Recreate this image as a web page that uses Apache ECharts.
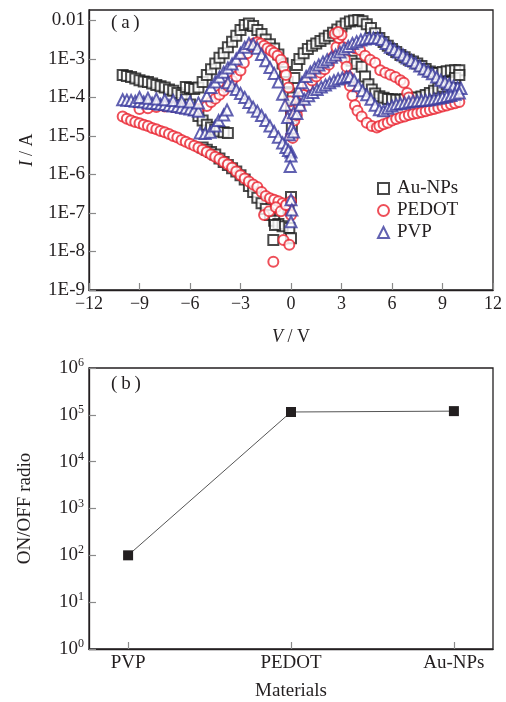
<!DOCTYPE html>
<html>
<head>
<meta charset="utf-8">
<script src="https://cdn.jsdelivr.net/npm/echarts@6/dist/echarts.min.js"></script>
<style>
html, body { margin: 0; background: #fff; }
#main { width: 506px; height: 702px; }
</style>
</head>
<body>
<div id="main"></div>
<script>
// (a) I-V curves, [V, I] pairs
const auNPs = [
  [-10,3.8e-4],[-9.75,3.6e-4],[-9.5,3.4e-4],[-9.25,3.1e-4],[-9,2.8e-4],[-8.75,2.6e-4],[-8.5,2.5e-4],[-8.25,2.3e-4],
  [-8,2.1e-4],[-7.75,1.95e-4],[-7.5,1.8e-4],[-7.25,1.6e-4],[-7,1.5e-4],[-6.75,1.3e-4],[-6.5,1.15e-4],[-6.25,8.9e-5],
  [-6,6.5e-5],[-5.75,4.7e-5],[-5.5,3.3e-5],[-5.25,2.5e-5],[-5,1.95e-5],[-4.75,1.65e-5],[-4.5,1.45e-5],[-4.25,1.3e-5],
  [-4,1.25e-5],[-3.75,1.2e-5],
  [-5.25,5.0e-6],[-5,4.4e-6],[-4.75,3.8e-6],[-4.5,3.3e-6],[-4.25,2.6e-6],[-4,2.1e-6],[-3.75,1.75e-6],[-3.5,1.45e-6],
  [-3.25,1.2e-6],[-3,9.5e-7],[-2.75,7.4e-7],[-2.5,5.0e-7],[-2.25,3.5e-7],[-2,2.5e-7],[-1.75,1.8e-7],[-1.5,1.26e-7],
  [-1.25,8.9e-8],[-1,6.3e-8],[-0.75,5.2e-8],[-0.5,4.5e-8],
  [-1.05,2.0e-8],[-0.95,4.9e-8],[0,2.6e-7],[-0.1,4.1e-8],[0,2.2e-8],[-0.15,1.3e-7],
  [-6.25,1.85e-4],[-6,1.75e-4],[-5.75,1.65e-4],[-5.5,1.8e-4],[-5.25,2.5e-4],[-5,3.8e-4],[-4.75,5.4e-4],[-4.5,7.6e-4],
  [-4.25,1.07e-3],[-4,1.4e-3],[-3.75,2.0e-3],[-3.5,2.8e-3],[-3.25,4.0e-3],[-3,5.6e-3],[-2.75,7.6e-3],[-2.5,8.3e-3],
  [-2.25,7.2e-3],[-2,5.6e-3],[-1.75,4.4e-3],[-1.5,3.2e-3],[-1.25,2.4e-3],[-1,1.85e-3],[-0.75,1.3e-3],[-0.5,7.6e-4],
  [-0.35,4.6e-4],[-0.2,2.5e-4],[-0.1,1.26e-4],[0,5.0e-5],[0.05,1.8e-5],
  [0.1,1.0e-4],[0.2,3.2e-4],[0.35,6.9e-4],[0.5,1.0e-3],[0.75,1.4e-3],[1,1.8e-3],[1.25,2.2e-3],[1.5,2.5e-3],
  [1.75,2.9e-3],[2,3.4e-3],[2.25,4.0e-3],[2.5,4.8e-3],[2.75,5.8e-3],[3,6.9e-3],[3.25,8.3e-3],[3.5,9.3e-3],
  [3.75,1.0e-2],[4,1.02e-2],[4.25,9.5e-3],[4.5,7.9e-3],[4.75,6.3e-3],[5,4.6e-3],[5.25,3.5e-3],[5.5,2.75e-3],
  [5.75,2.2e-3],[6,1.8e-3],[6.25,1.5e-3],[6.5,1.26e-3],[6.75,1.1e-3],[7,9.5e-4],[7.25,8.5e-4],[7.5,7.6e-4],
  [7.75,6.5e-4],[8,5.5e-4],[8.25,4.7e-4],[8.5,4.3e-4],[8.75,4.3e-4],[9,4.6e-4],[9.25,4.8e-4],[9.5,5.0e-4],
  [9.75,5.1e-4],[10,5.1e-4],
  [3.6,9.0e-4],[3.9,7.5e-4],[4.2,6.3e-4],[4.4,3.5e-4],[4.6,2.2e-4],[4.8,1.6e-4],[5,1.26e-4],[5.25,1.07e-4],
  [5.5,9.8e-5],[5.75,9.1e-5],[6,8.9e-5],[6.25,8.7e-5],[6.5,8.7e-5],[6.75,8.9e-5],[7,9.3e-5],[7.25,9.8e-5],
  [7.5,1.0e-4],[7.75,1.05e-4],[8,1.15e-4],[8.25,1.3e-4],[8.5,1.5e-4],[8.75,1.7e-4],[9,1.9e-4],[9.25,2.2e-4],
  [9.5,2.5e-4],[9.75,3.2e-4],[10,3.8e-4]
];

const pedot = [
  [-10,3.2e-5],[-9.75,2.8e-5],[-9.5,2.5e-5],[-9.25,2.3e-5],[-9,2.15e-5],[-8.75,1.95e-5],[-8.5,1.8e-5],[-8.25,1.6e-5],
  [-8,1.5e-5],[-7.75,1.35e-5],[-7.5,1.25e-5],[-7.25,1.12e-5],[-7,1.0e-5],[-6.75,9.1e-6],[-6.5,7.9e-6],[-6.25,7.1e-6],
  [-6,6.3e-6],[-5.75,5.6e-6],[-5.5,5.0e-6],[-5.25,4.4e-6],[-5,3.8e-6],[-4.75,3.3e-6],[-4.5,2.9e-6],[-4.25,2.5e-6],
  [-4,2.1e-6],[-3.75,1.8e-6],[-3.5,1.5e-6],[-3.25,1.2e-6],[-3,9.5e-7],[-2.75,7.9e-7],[-2.5,6.6e-7],[-2.25,5.5e-7],
  [-2,4.7e-7],[-1.75,3.5e-7],[-1.5,2.75e-7],[-1.25,2.4e-7],[-1,2.2e-7],[-0.75,2.0e-7],[-0.5,1.8e-7],[-0.25,1.6e-7],
  [-1.6,8.9e-8],[-1.3,1.1e-7],[-0.9,1.4e-7],[-0.6,1.1e-7],[-0.3,1.6e-7],[0,2.0e-7],[0,8.9e-8],[-0.45,2.0e-8],
  [-0.1,1.5e-8],[-1.05,5.4e-9],
  [-9,5.0e-5],[-8.5,5.2e-5],[-8,5.6e-5],[-7.5,5.8e-5],[-7,5.6e-5],[-6.5,5.2e-5],[-6,5.0e-5],[-5.5,5.0e-5],
  [-5,6.0e-5],[-4.75,7.6e-5],[-4.5,9.3e-5],[-4.25,1.17e-4],[-4,1.5e-4],[-3.75,2.0e-4],[-3.5,2.7e-4],[-3.25,3.5e-4],
  [-3,5.0e-4],[-2.8,7.9e-4],[-2.6,1.4e-3],[-2.4,2.1e-3],[-2.2,2.5e-3],[-2,2.7e-3],[-1.8,2.5e-3],[-1.6,2.2e-3],
  [-1.4,1.9e-3],[-1.2,1.66e-3],[-1,1.45e-3],[-0.8,1.2e-3],[-0.6,9.5e-4],[-0.45,6.3e-4],[-0.3,3.8e-4],[-0.15,1.8e-4],
  [-0.05,7.9e-5],[0,3.5e-5],[0,1.0e-5],[0.1,8.9e-6],
  [0.2,2.5e-5],[0.35,3.5e-5],[0.5,5.6e-5],[0.75,1.15e-4],[1,2.0e-4],[1.25,2.75e-4],[1.5,3.5e-4],[1.75,4.4e-4],
  [2,5.4e-4],[2.25,7.1e-4],[2.5,1.1e-3],[2.7,2.0e-3],[2.85,3.5e-3],[3,4.2e-3],[2.6,4.5e-3],[2.8,5.0e-3],
  [3.1,2.0e-3],[3.2,1.0e-3],[3.3,6.3e-4],[3.4,3.5e-4],[3.5,2.0e-4],[3.65,1.1e-4],[3.8,6.3e-5],[3.95,4.5e-5],
  [4.2,3.2e-5],[4.5,2.2e-5],[4.8,1.8e-5],[5.1,1.66e-5],
  [5.25,1.8e-5],[5.5,2.0e-5],[5.75,2.2e-5],[6,2.5e-5],[6.25,2.75e-5],[6.5,3.0e-5],[6.75,3.2e-5],[7,3.5e-5],
  [7.25,3.7e-5],[7.5,3.9e-5],[7.75,4.1e-5],[8,4.4e-5],[8.25,4.7e-5],[8.5,5.0e-5],[8.75,5.4e-5],[9,5.8e-5],
  [9.25,6.2e-5],[9.5,6.6e-5],[9.75,7.1e-5],[10,7.6e-5],
  [3.8,1.9e-3],[4.1,1.7e-3],[4.4,1.2e-3],[4.7,9.5e-4],[5,7.9e-4],[5.3,5.1e-4],[5.6,4.4e-4],[5.9,3.9e-4],
  [6.2,3.4e-4],[6.5,2.8e-4],[6.7,2.4e-4],[6.9,1.3e-4],[7,1.0e-4]
];

const pvp = [
  [-10,8.7e-5],[-9.75,8.5e-5],[-9.5,8.3e-5],[-9.25,7.9e-5],[-9,7.8e-5],[-8.75,7.6e-5],[-8.5,7.2e-5],[-8.25,7.1e-5],
  [-8,6.9e-5],[-7.75,6.6e-5],[-7.5,6.5e-5],[-7.25,6.2e-5],[-7,6.0e-5],[-6.75,5.8e-5],[-6.5,5.5e-5],[-6.25,5.2e-5],
  [-6,5.0e-5],[-5.75,4.7e-5],[-5.5,4.4e-5],
  [-9,1.0e-4],[-8.5,9.5e-5],[-8,9.1e-5],[-7.5,8.7e-5],[-7,8.3e-5],[-6.5,7.9e-5],[-6,7.6e-5],[-5.5,7.2e-5],
  [-5.4,1.2e-5],[-5.1,1.15e-5],[-4.8,1.25e-5],[-4.5,1.8e-5],[-4.3,2.5e-5],[-4,3.5e-5],[-3.8,4.7e-5],
  [-5,1.1e-4],[-4.75,1.8e-4],[-4.5,2.5e-4],[-4.25,3.4e-4],[-4,4.5e-4],[-3.75,5.8e-4],[-3.5,7.4e-4],[-3.25,1.0e-3],
  [-3,1.4e-3],[-2.75,2.0e-3],[-2.5,2.5e-3],[-2.25,2.4e-3],[-2,1.9e-3],[-1.75,1.3e-3],[-1.5,8.9e-4],[-1.25,6.0e-4],
  [-1,4.2e-4],[-0.75,2.5e-4],[-0.5,1.2e-4],[-0.35,6.3e-5],[-0.2,3.0e-5],[-0.1,1.07e-5],[0,3.8e-6],
  [-3.75,2.4e-4],[-3.5,2.0e-4],[-3.25,1.6e-4],[-3,1.26e-4],[-2.75,1.0e-4],[-2.5,7.4e-5],[-2.25,5.6e-5],[-2,4.4e-5],
  [-1.75,3.4e-5],[-1.5,2.5e-5],[-1.25,1.8e-5],[-1,1.3e-5],[-0.75,9.3e-6],[-0.5,6.6e-6],[-0.3,5.0e-6],[-0.15,4.2e-6],
  [0,3.0e-6],[-0.05,1.6e-6],[0,2.2e-7],[0.05,1.2e-7],[0,5.9e-8],
  [0.05,1.6e-5],[0.15,4.0e-5],[0.3,8.9e-5],[0.45,1.5e-4],[0.65,2.4e-4],[0.9,3.5e-4],[1.15,4.6e-4],[1.4,5.8e-4],
  [1.65,6.9e-4],[1.9,8.3e-4],[2.15,9.5e-4],[2.4,1.1e-3],[2.65,1.26e-3],[2.9,1.5e-3],[3.15,1.8e-3],[3.4,2.1e-3],
  [3.65,2.5e-3],[3.9,2.8e-3],[4.15,3.1e-3],[4.4,3.3e-3],[4.65,3.5e-3],[4.9,3.5e-3],[5.15,3.5e-3],[5.4,3.2e-3],
  [5.65,2.5e-3],[5.9,2.0e-3],[6.15,1.75e-3],[6.4,1.5e-3],[6.65,1.26e-3],[6.9,1.05e-3],[7.15,9.1e-4],[7.4,7.8e-4],
  [7.65,6.5e-4],[7.9,5.5e-4],[8.15,4.8e-4],[8.4,4.1e-4],[8.65,3.4e-4],[8.9,2.8e-4],[9.15,2.5e-4],[9.4,2.2e-4],
  [9.65,1.95e-4],[9.9,1.8e-4],[10.1,1.7e-4],
  [0.15,1.26e-5],[0.35,3.8e-5],[0.55,6.3e-5],[0.8,8.9e-5],[1.05,1.1e-4],[1.3,1.35e-4],[1.55,1.6e-4],[1.8,1.85e-4],
  [2.05,2.1e-4],[2.3,2.4e-4],[2.55,2.7e-4],[2.8,3.0e-4],[3.05,3.2e-4],[3.3,3.4e-4],[3.5,3.5e-4],
  [3.75,2.8e-4],[4,2.0e-4],[4.25,1.5e-4],[4.5,1.17e-4],[4.75,8.9e-5],[5,6.3e-5],[5.25,4.8e-5],[5.5,4.5e-5],
  [5.75,5.2e-5],[6,6.0e-5],[6.25,6.6e-5],[6.5,6.9e-5],[6.75,7.2e-5],[7,7.6e-5],[7.25,7.9e-5],[7.5,8.1e-5],
  [7.75,8.3e-5],[8,8.5e-5],[8.25,8.7e-5],[8.5,9.1e-5],[8.75,9.5e-5],[9,1.0e-4],[9.25,1.05e-4],[9.5,1.12e-4],
  [9.75,1.2e-4],[10,1.3e-4]
];

const ivTicks = [1e-9, 1e-8, 1e-7, 1e-6, 1e-5, 1e-4, 1e-3, 1e-2];

// (b) ON/OFF ratio
const materials = ['PVP', 'PEDOT', 'Au-NPs'];
const onOffRatio = [100, 1.15e5, 1.2e5];
const ratioTicks = [1, 10, 100, 1e3, 1e4, 1e5, 1e6];

const serif = "'Liberation Serif', 'DejaVu Serif', serif";
const txt = '#231f20';

let myChart = echarts.init(document.getElementById('main'));

const tickStyle = { inside: true, length: 7, lineStyle: { color: '#8a8a8a', width: 1.2 } };
const lineStyle = { show: true, onZero: false, lineStyle: { color: txt, width: 1.3 } };

function scatter(name, data, symbol, color, size) {
  return {
    name: name,
    type: 'scatter',
    xAxisIndex: 0,
    yAxisIndex: 0,
    data: data,
    symbol: symbol,
    symbolSize: size,
    itemStyle: { color: color, borderColor: color, borderWidth: 1.5 }
  };
}

let options = {
  backgroundColor: '#fff',
  animation: false,
  textStyle: { fontFamily: serif },
  grid: [
    { left: 89, top: 10, width: 404, height: 280, show: true, borderColor: txt, borderWidth: 1.3 },
    { left: 89, top: 368, width: 404, height: 281, show: true, borderColor: txt, borderWidth: 1.3 }
  ],
  legend: {
    data: ['Au-NPs', 'PEDOT', 'PVP'],
    orient: 'vertical',
    left: 372,
    top: 174,
    itemWidth: 11,
    itemHeight: 11,
    itemGap: 3,
    textStyle: { fontFamily: serif, fontSize: 19, color: txt, padding: [0, 0, 0, 3] }
  },
  graphic: [
    { type: 'text', left: 111, top: 14, style: { text: '(\u2009a\u2009)', font: '19px ' + serif, fill: txt } },
    { type: 'text', left: 111, top: 375, style: { text: '(\u2009b\u2009)', font: '19px ' + serif, fill: txt } }
  ],
  xAxis: [
    {
      gridIndex: 0,
      type: 'value',
      min: -12,
      max: 12,
      interval: 3,
      name: '{i|V} / V',
      nameLocation: 'middle',
      nameGap: 38,
      nameTextStyle: { fontFamily: serif, fontSize: 18, color: txt, rich: { i: { fontStyle: 'italic', fontFamily: serif, fontSize: 18 } } },
      axisLine: lineStyle,
      axisTick: tickStyle,
      splitLine: { show: false },
      axisLabel: {
        fontFamily: serif, fontSize: 18, color: txt, margin: 5,
        formatter: v => v < 0 ? '\u2212' + (-v) : String(v)
      }
    },
    {
      gridIndex: 1,
      type: 'value',
      min: -0.24,
      max: 2.24,
      name: 'Materials',
      nameLocation: 'middle',
      nameGap: 33,
      nameTextStyle: { fontFamily: serif, fontSize: 19, color: txt },
      axisLine: lineStyle,
      axisTick: Object.assign({ customValues: [0, 1, 2] }, tickStyle),
      splitLine: { show: false },
      axisLabel: {
        customValues: [0, 1, 2],
        fontFamily: serif, fontSize: 19, color: txt, margin: 5,
        formatter: v => materials[Math.round(v)]
      }
    }
  ],
  yAxis: [
    {
      gridIndex: 0,
      type: 'log',
      min: 1e-9,
      max: 0.0186,
      name: '{i|I} / A',
      nameLocation: 'middle',
      nameGap: 53,
      nameRotate: 90,
      nameTextStyle: { fontFamily: serif, fontSize: 18, color: txt, rich: { i: { fontStyle: 'italic', fontFamily: serif, fontSize: 18 } } },
      axisLine: lineStyle,
      axisTick: Object.assign({ customValues: ivTicks }, tickStyle),
      splitLine: { show: false },
      axisLabel: {
        customValues: ivTicks,
        fontFamily: serif, fontSize: 19, color: txt, margin: 4,
        formatter: v => v > 0.005 ? '0.01' : '1E' + Math.round(Math.log10(v))
      }
    },
    {
      gridIndex: 1,
      type: 'log',
      min: 1,
      max: 1e6,
      name: 'ON/OFF radio',
      nameLocation: 'middle',
      nameGap: 54,
      nameRotate: 90,
      nameTextStyle: { fontFamily: serif, fontSize: 19, color: txt },
      axisLine: lineStyle,
      axisTick: Object.assign({ customValues: ratioTicks }, tickStyle),
      splitLine: { show: false },
      axisLabel: {
        customValues: ratioTicks,
        color: txt, margin: 5,
        formatter: v => '{b|10}{s|' + Math.round(Math.log10(v)) + '}',
        rich: {
          b: { fontFamily: serif, fontSize: 19, color: txt, lineHeight: 22 },
          s: { fontFamily: serif, fontSize: 12, color: txt, verticalAlign: 'top', lineHeight: 13 }
        }
      }
    }
  ],
  series: [
    scatter('Au-NPs', auNPs, 'emptyRect', '#1c1c1c', 10),
    scatter('PEDOT', pedot, 'emptyCircle', '#ea2330', 10),
    scatter('PVP', pvp, 'emptyTriangle', '#3a3a9e', 11),
    {
      name: 'ratio',
      type: 'line',
      xAxisIndex: 1,
      yAxisIndex: 1,
      data: materials.map((m, i) => [i, onOffRatio[i]]),
      symbol: 'rect',
      symbolSize: 10,
      itemStyle: { color: txt },
      lineStyle: { color: '#555', width: 1 }
    }
  ]
};

myChart.setOption(options);
</script>
</body>
</html>
